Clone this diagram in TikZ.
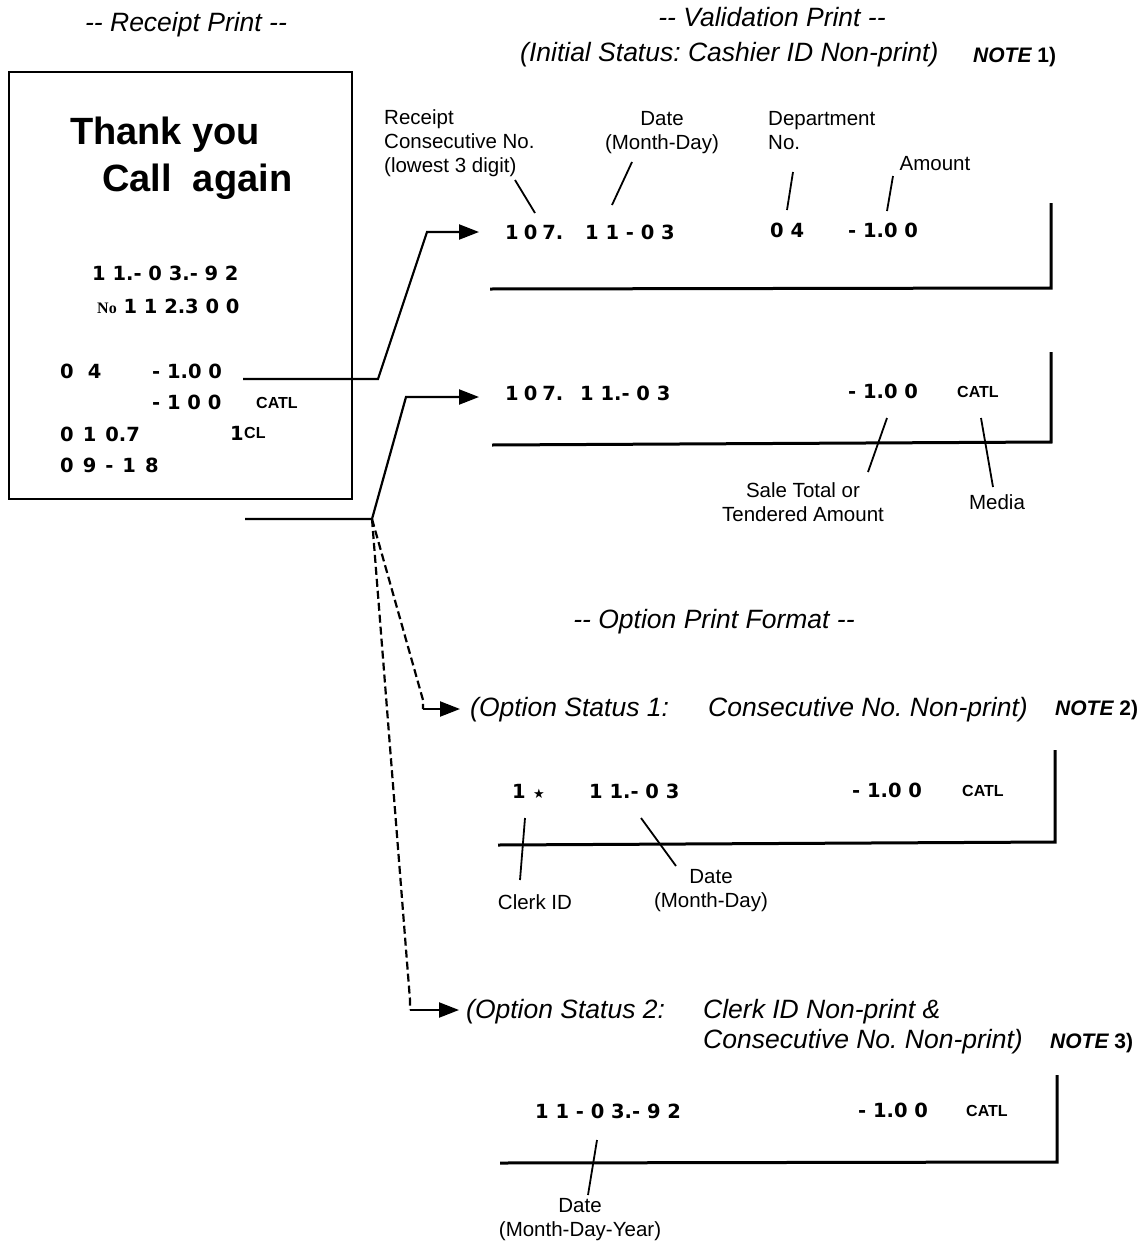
\documentclass[tikz,border=0pt]{standalone}
\usepackage{fontspec}
\setmainfont{Liberation Sans}
\newfontfamily\serifb{Liberation Serif}
\newfontfamily\dejavu{DejaVu Sans}
\usetikzlibrary{arrows.meta}
\newcommand{\fsz}[1]{\fontsize{#1}{#1}\selectfont}
\newcommand{\sps}[1]{\spaceskip=#1pt\relax}
\frenchspacing
\begin{document}
\begin{tikzpicture}[x=1pt,y=-1pt,
 lbl/.style={inner sep=0pt, font=\fontsize{20.5}{24}\selectfont, align=center},
 ttl/.style={inner sep=0pt, font=\fsz{26.5}\itshape, anchor=west},
 prn/.style={inner sep=0pt, font=\dejavu\bfseries\fsz{19.5}, anchor=west},
 sml/.style={inner sep=0pt, font=\fsz{16}\bfseries, anchor=west},
 notelbl/.style={inner sep=0pt, anchor=west, font=\fsz{21}\bfseries},
 conn/.style={line width=2.2pt},
 dconn/.style={line width=2.2pt, dash pattern=on 8pt off 4pt},
 arr/.style={-{Triangle[length=20pt,width=15pt]}},
 paper/.style={line width=3pt},
 lead/.style={line width=1.8pt}]
\useasboundingbox (0,0) rectangle (1141,1245);

% titles
\node[ttl, anchor=center] (trec) at (186,25) {{-}{-} Receipt Print {-}{-}};
\node[ttl, anchor=center] (tval) at (772,17) {{-}{-} Validation Print {-}{-}};
\node[ttl] (tinit) at (520,55) {(Initial Status: Cashier ID Non-print)};
\node[notelbl] (note1) at (973,57) {{\itshape NOTE} 1)};
\node[ttl, anchor=center] (topt) at (714,622) {{-}{-} Option Print Format {-}{-}};

% receipt
\node[draw, line width=2pt, minimum width=343pt, minimum height=427pt, anchor=north west, inner sep=0] (rbox) at (8,71) {};
\node[inner sep=0, anchor=west, font=\fsz{38}\bfseries] (ty) at (70,135) {Thank you};
\node[inner sep=0, anchor=west, font=\fsz{38}\bfseries] (ca) at (102,182) {Call\ \ again};
\node[prn] (r1) at (92,273) {1 1.- 0 3.- 9 2};
\node[prn] (r2) at (97,306) {{\serifb\fsz{16}No} 1 1 2.3 0 0};
\node[prn] (r3a) at (60,371) {0\hspace{14pt}4};
\node[prn] (r3b) at (152,371) {- 1.0 0};
\node[prn] (r4a) at (152,402) {- 1 0 0};
\node[sml] (r4b) at (256,403) {CATL};
\node[prn] (r5a) at (60,434) {\sps{9}0 1 0.7};
\node[prn] (r5b) at (230,433) {1};
\node[sml] (r5c) at (244,433) {CL};
\node[prn] (r6) at (60,465) {\sps{9}0 9 - 1 8};

% validation print 1
\node[prn] (v1a) at (505,232) {\sps{5}1 0 7.};
\node[prn] (v1b) at (585,232) {1 1 - 0 3};
\node[prn] (v1c) at (770,230) {0 4};
\node[prn] (v1d) at (848,230) {- 1.0 0};
\draw[paper] (490,289) -- (1051,288) -- (1051,203);
\node[lbl, align=left, anchor=north west] (l1) at (384,109) {Receipt\\Consecutive No.\\(lowest 3 digit)};
\node[lbl] (l2) at (662,133) {Date\\(Month-Day)};
\node[lbl, align=left, anchor=north west] (l3) at (768,111) {Department\\No.};
\node[lbl] (l4) at (935,164) {Amount};
\coordinate (p1a) at (515,180); \coordinate (p1b) at (535,213);
\coordinate (p2a) at (632,162); \coordinate (p2b) at (612,205);
\coordinate (p3a) at (793,172); \coordinate (p3b) at (787,210);
\coordinate (p4a) at (893,176); \coordinate (p4b) at (887,211);
\draw[lead] (p1a) -- (p1b);
\draw[lead] (p2a) -- (p2b);
\draw[lead] (p3a) -- (p3b);
\draw[lead] (p4a) -- (p4b);

% validation print 2
\node[prn] (v2a) at (505,393) {\sps{5}1 0 7.};
\node[prn] (v2b) at (580,393) {1 1.- 0 3};
\node[prn] (v2c) at (848,391) {- 1.0 0};
\node[sml] (v2d) at (957,392) {CATL};
\draw[paper] (492,445) -- (1051,442) -- (1051,352);
\node[lbl] (l5) at (803,502) {Sale Total or\\Tendered Amount};
\node[lbl] (l6) at (997,502) {Media};
\coordinate (p5a) at (887,418); \coordinate (p5b) at (868,472);
\coordinate (p6a) at (981,418); \coordinate (p6b) at (993,487);
\draw[lead] (p5a) -- (p5b);
\draw[lead] (p6a) -- (p6b);

% option 1
\node[ttl] (o1a) at (470,710) {(Option Status 1:};
\node[ttl] (o1b) at (708,710) {Consecutive No. Non-print)};
\node[notelbl] (note2) at (1055,710) {{\itshape NOTE} 2)};
\node[prn] (o1p1) at (512,791) {1};
\node[inner sep=0, anchor=west, font=\dejavu\fsz{13}] (o1star) at (533,794) {★};
\node[prn] (o1p2) at (589,791) {1 1.- 0 3};
\node[prn] (o1p3) at (852,790) {- 1.0 0};
\node[sml] (o1p4) at (962,791) {CATL};
\draw[paper] (498,845) -- (1055,842) -- (1055,750);
\node[lbl] (l7) at (535,902) {Clerk ID};
\node[lbl] (l8) at (711,891) {Date\\(Month-Day)};
\coordinate (p7a) at (525,818); \coordinate (p7b) at (520,880);
\coordinate (p8a) at (641,818); \coordinate (p8b) at (676,866);
\draw[lead] (p7a) -- (p7b);
\draw[lead] (p8a) -- (p8b);

% option 2
\node[ttl] (o2a) at (466,1012) {(Option Status 2:};
\node[ttl] (o2b) at (703,1012) {Clerk ID Non-print \&};
\node[ttl] (o2c) at (703,1042) {Consecutive No. Non-print)};
\node[notelbl] (note3) at (1050,1043) {{\itshape NOTE} 3)};
\node[prn] (o2p1) at (535,1111) {1 1 - 0 3.- 9 2};
\node[prn] (o2p2) at (858,1110) {- 1.0 0};
\node[sml] (o2p3) at (966,1111) {CATL};
\draw[paper] (500,1163) -- (1057,1162) -- (1057,1075);
\node[lbl] (l9) at (580,1220) {Date\\(Month-Day-Year)};
\coordinate (p9a) at (597,1140); \coordinate (p9b) at (588,1195);
\draw[lead] (p9a) -- (p9b);

% connectors
\coordinate (c1s) at (243,379); \coordinate (c1a) at (378,379); \coordinate (c1b) at (427,232);
\coordinate (c2s) at (245,519); \coordinate (c2a) at (372,519); \coordinate (c2b) at (406,397);
\coordinate (d1a) at (423,700); \coordinate (d1b) at (423,709);
\coordinate (d2a) at (410,1000); \coordinate (d2b) at (410,1010);
\draw[conn, arr, shorten >=26pt] (c1s) -- (c1a) -- (c1b) -- (c1b -| v1a.west);
\draw[conn, arr, shorten >=26pt] (c2s) -- (c2a) -- (c2b) -- (c2b -| v2a.west);
\draw[dconn] (c2a) -- (d1a) -- (d1b);
\draw[conn, arr, shorten >=10pt] (d1b) -- (d1b -| o1a.west);
\draw[dconn] (c2a) -- (d2a) -- (d2b);
\draw[conn, arr, shorten >=7pt] (d2b) -- (d2b -| o2a.west);
\end{tikzpicture}
\end{document}
